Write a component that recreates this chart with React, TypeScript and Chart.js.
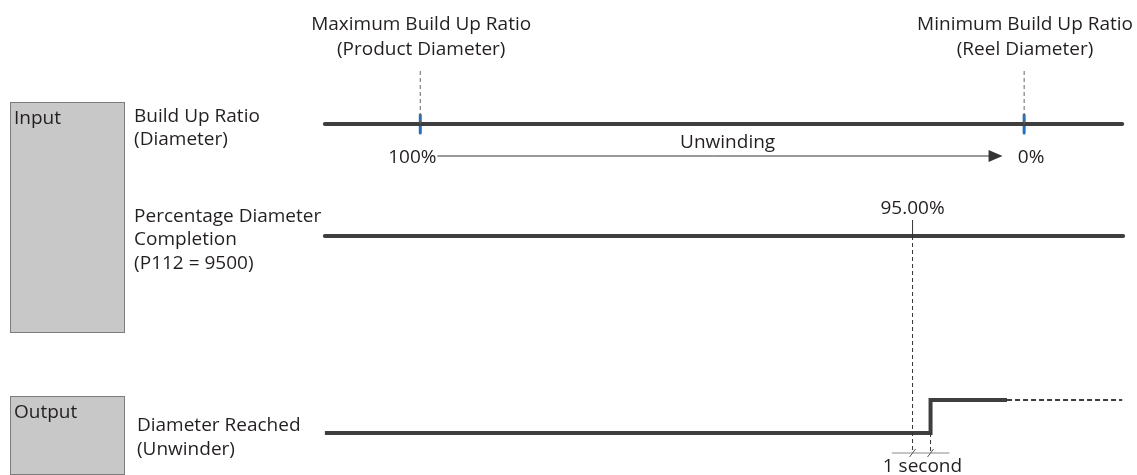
import React, { useEffect, useRef } from "react";
import { Chart, registerables } from "chart.js";

Chart.register(...registerables);

// ---- axes (time in seconds, level in arbitrary signal units) ----
const timeRange = [-18.05, 45.12];
const levelRange = [0, 47.5];

// ---- signal data ----
const traceStart = 0;
const traceEnd = 44.3;
const buildUpLevel = 35.1;
const percentLevel = 23.9;
const outputLow = 4.2;
const outputHigh = 7.5;

const markerTimes = [5.3, 38.85]; // 100% (product), 0% (reel)
const markerTitles = [
  ["Maximum Build Up Ratio", "(Product Diameter)"],
  ["Minimum Build Up Ratio", "(Reel Diameter)"],
];
const ratioLabels = ["100%", "0%"];
const arrowTimes = [6.25, 37.65];
const arrowLabel = "Unwinding";

const triggerTime = 32.65;
const triggerLabel = "95.00%";
const delaySeconds = 1;
const delayLabel = "1 second";
const outputSolidEnd = 37.9;

const outputTimes = [traceStart, triggerTime + delaySeconds, triggerTime + delaySeconds, outputSolidEnd];
const outputLevels = [outputLow, outputLow, outputHigh, outputHigh];

const rowLabels = [
  ["Build Up Ratio", "(Diameter)"],
  ["Percentage Diameter", "Completion", "(P112 = 9500)"],
  ["Diameter Reached", "(Unwinder)"],
];
const groupLabels = ["Input", "Output"];

// ---- annotation layout (in axis units) ----
const markerHalf = 0.9;
const markerGuideTop = 40.7;
const triggerGuideTop = 25.5;
const measureLevel = 2.2;
const measureSpan = [31.5, 34.7];

const FONT = '19px "Open Sans", sans-serif';
const TEXT = "#231f20";
const TRACE = "#3e3e3e";

const seg = (x1: number, y1: number, x2: number, y2: number) => [
  { x: x1, y: y1 },
  { x: x2, y: y2 },
];

const annotationPlugin = {
  id: "timingAnnotations",
  beforeDatasetsDraw(chart: any) {
    const { ctx, scales } = chart;
    const X = (v: number) => scales.x.getPixelForValue(v);
    const Y = (v: number) => scales.y.getPixelForValue(v);
    ctx.save();
    // group boxes
    const boxes = [
      [-17.5, 37.3, -11.16, 14.3],
      [-17.5, 7.9, -11.16, 0.1],
    ];
    boxes.forEach(([x1, y1, x2, y2]) => {
      const l = Math.round(X(x1)) + 0.5;
      const t = Math.round(Y(y1)) + 0.5;
      const r = Math.round(X(x2)) + 0.5;
      const b = Math.round(Y(y2)) + 0.5;
      ctx.fillStyle = "#c8c8c8";
      ctx.fillRect(l, t, r - l, b - t);
      ctx.strokeStyle = "#7c7c7c";
      ctx.lineWidth = 1;
      ctx.strokeRect(l, t, r - l, b - t);
    });
    ctx.restore();
  },
  afterDatasetsDraw(chart: any) {
    const { ctx, scales } = chart;
    const X = (v: number) => scales.x.getPixelForValue(v);
    const Y = (v: number) => scales.y.getPixelForValue(v);
    ctx.save();
    ctx.font = FONT;
    ctx.fillStyle = TEXT;
    ctx.textBaseline = "alphabetic";

    const text = (s: string, x: number, y: number, align: CanvasTextAlign) => {
      ctx.textAlign = align;
      ctx.fillText(s, X(x), Y(y));
    };

    // marker titles
    markerTitles.forEach((lines, i) => {
      lines.forEach((s, j) => text(s, markerTimes[i] + 0.05, 44.55 - j * 2.55, "center"));
    });
    // group labels
    text(groupLabels[0], -17.27, 35.07, "left");
    text(groupLabels[1], -17.27, 5.73, "left");
    // row labels
    rowLabels[0].forEach((s, j) => text(s, -10.6, 35.33 - j * 2.35, "left"));
    rowLabels[1].forEach((s, j) => text(s, -10.6, 25.33 - j * 2.35, "left"));
    rowLabels[2].forEach((s, j) => text(s, -10.44, 4.4 - j * 2.4, "left"));
    // ratio labels
    text(ratioLabels[0], arrowTimes[0] - 0.05, 31.17, "right");
    text(ratioLabels[1], 38.5, 31.17, "left");
    text(arrowLabel, (markerTimes[0] + markerTimes[1]) / 2 + 0.3, 32.67, "center");
    // trigger label
    text(triggerLabel, triggerTime, 26.07, "center");
    // delay label
    text(delayLabel, triggerTime + 0.55, 0.33, "center");

    // arrow head
    const tipX = X(arrowTimes[1]);
    const ay = Y(31.9);
    ctx.fillStyle = "#333";
    ctx.beginPath();
    ctx.moveTo(tipX, ay);
    ctx.lineTo(tipX - 14, ay - 6);
    ctx.lineTo(tipX - 14, ay + 6);
    ctx.closePath();
    ctx.fill();

    // tick slashes on measurement line
    ctx.strokeStyle = "#555";
    ctx.lineWidth = 1;
    [triggerTime, triggerTime + delaySeconds].forEach((t) => {
      const x = X(t);
      const y = Y(measureLevel);
      ctx.beginPath();
      ctx.moveTo(x - 3, y + 4);
      ctx.lineTo(x + 3, y - 4);
      ctx.stroke();
    });
    ctx.restore();
  },
};

export default function App() {
  const ref = useRef<HTMLCanvasElement | null>(null);

  useEffect(() => {
    if (!ref.current) return;
    const trace = (data: any[], extra: any = {}) => ({
      data,
      showLine: true,
      borderColor: TRACE,
      borderWidth: 4,
      pointRadius: 0,
      borderCapStyle: "butt",
      borderJoinStyle: "miter",
      clip: false,
      ...extra,
    });
    const guide = (data: any[], extra: any = {}) => ({
      data,
      showLine: true,
      borderColor: "#333",
      borderWidth: 1,
      borderDash: [4, 3],
      pointRadius: 0,
      clip: false,
      ...extra,
    });

    const datasets: any[] = [
      // guides (drawn under traces)
      ...markerTimes.map((t) => guide(seg(t, buildUpLevel, t, markerGuideTop), { borderColor: "#666" })),
      guide(seg(triggerTime, percentLevel, triggerTime, measureLevel)),
      guide(seg(triggerTime, percentLevel, triggerTime, triggerGuideTop), { borderDash: [] }),
      guide(seg(triggerTime + delaySeconds, outputLow, triggerTime + delaySeconds, measureLevel)),
      guide(seg(measureSpan[0], measureLevel, measureSpan[1], measureLevel), {
        borderDash: [],
        borderColor: "#8a8a8a",
      }),
      guide(seg(arrowTimes[0], 31.9, arrowTimes[1] - 0.7, 31.9), { borderDash: [], borderColor: "#333" }),
      // traces
      trace(seg(traceStart, buildUpLevel, traceEnd, buildUpLevel), { borderCapStyle: "round" }),
      trace(seg(traceStart, percentLevel, traceEnd + 0.05, percentLevel), { borderCapStyle: "round" }),
      trace(outputTimes.map((t, i) => ({ x: t, y: outputLevels[i] }))),
      trace(seg(outputSolidEnd, outputHigh, traceEnd, outputHigh), { borderWidth: 2, borderDash: [5, 3] }),
      // markers
      ...markerTimes.map((t) =>
        trace(seg(t, buildUpLevel - markerHalf, t, buildUpLevel + markerHalf), {
          borderColor: "#2270c2",
          borderWidth: 3,
          borderCapStyle: "round",
        })
      ),
    ];

    const chart = new Chart(ref.current, {
      type: "scatter",
      data: { datasets },
      options: {
        animation: false,
        responsive: false,
        devicePixelRatio: 1,
        events: [],
        layout: { padding: 0 },
        plugins: { legend: { display: false }, tooltip: { enabled: false } },
        scales: {
          x: { type: "linear", display: false, min: timeRange[0], max: timeRange[1] },
          y: { type: "linear", display: false, min: levelRange[0], max: levelRange[1] },
        },
      } as any,
      plugins: [annotationPlugin],
    });
    return () => chart.destroy();
  }, []);

  return (
    <div style={{ position: "absolute", left: 0, top: 0, width: 1137, height: 475, background: "#fff" }}>
      <canvas ref={ref} width={1137} height={475} style={{ display: "block" }} />
    </div>
  );
}
